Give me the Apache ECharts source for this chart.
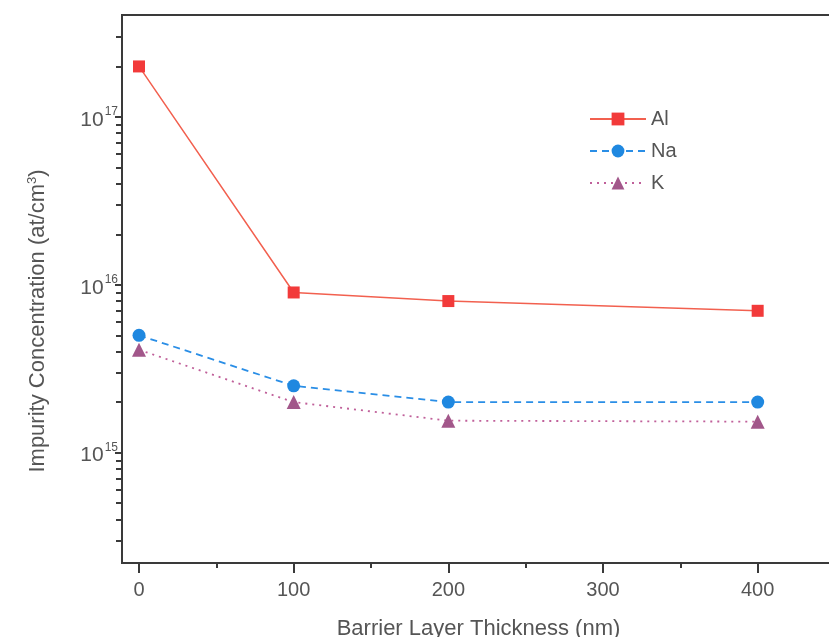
<!DOCTYPE html>
<html>
<head>
<meta charset="utf-8">
<script src="https://cdn.jsdelivr.net/npm/echarts@6/dist/echarts.min.js"></script>
<style>
  html, body { margin: 0; padding: 0; background: #fff; }
  #chart { width: 829px; height: 637px; }
</style>
</head>
<body>
<div id="chart"></div>
<script>
// 阻挡层厚度 (nm)
let thickness = [0, 100, 200, 400];
// 各杂质浓度 (at/cm3)
let alValues = [2.0e17, 9.0e15, 8.0e15, 7.0e15];
let naValues = [5.0e15, 2.5e15, 2.0e15, 2.0e15];
let kValues = [4.1e15, 2.0e15, 1.55e15, 1.53e15];
// 刻度
let xMajorTicks = [0, 100, 200, 300, 400];
let xMinorTicks = [50, 150, 250, 350];
let yMajorTicks = [1e15, 1e16, 1e17];
let yMinorTicks = [3e14, 4e14, 5e14, 6e14, 7e14, 8e14, 9e14,
    2e15, 3e15, 4e15, 5e15, 6e15, 7e15, 8e15, 9e15,
    2e16, 3e16, 4e16, 5e16, 6e16, 7e16, 8e16, 9e16,
    2e17, 3e17];

let axisColor = '#3a3a3a';
let textColor = '#555';
let font = '"Liberation Sans", Arial, sans-serif';

function pairs(values) {
    return thickness.map(function (x, i) {
        return [x, values[i]];
    });
}

let myChart = echarts.init(document.getElementById('chart'));
let option = {
    backgroundColor: '#fff',
    animation: false,
    textStyle: { fontFamily: font },
    grid: {
        left: 122, top: 15, width: 713, bottom: 74,
        containLabel: false, outerBoundsMode: 'none',
        show: true, borderColor: axisColor, borderWidth: 2
    },
    legend: {
        orient: 'vertical',
        left: 584, top: 104,
        itemWidth: 56, itemHeight: 16, itemGap: 12,
        textStyle: { fontSize: 20, color: textColor, fontFamily: font },
        data: ['Al', 'Na', 'K']
    },
    xAxis: [{
        type: 'value', min: -11, max: 450, position: 'bottom',
        axisLine: { show: true, onZero: false, lineStyle: { color: axisColor, width: 2 } },
        axisTick: { show: true, inside: false, length: 10, customValues: xMajorTicks,
            lineStyle: { color: axisColor, width: 2 } },
        axisLabel: { customValues: xMajorTicks, fontSize: 20, color: textColor, margin: 17 },
        splitLine: { show: false },
        name: 'Barrier Layer Thickness (nm)', nameLocation: 'middle', nameGap: 55,
        nameTextStyle: { fontSize: 22, color: textColor }
    }, {
        type: 'value', min: -11, max: 450, position: 'bottom',
        axisLine: { show: false, onZero: false },
        axisTick: { show: true, length: 5, customValues: xMinorTicks,
            lineStyle: { color: axisColor, width: 2 } },
        axisLabel: { show: false },
        splitLine: { show: false }
    }],
    yAxis: [{
        type: 'log', logBase: 10, min: 2.2e14, max: 4.05e17, position: 'left',
        axisLine: { show: true, onZero: false, lineStyle: { color: axisColor, width: 2 } },
        axisTick: { show: true, length: 7, customValues: yMajorTicks,
            lineStyle: { color: axisColor, width: 2 } },
        axisLabel: {
            customValues: yMajorTicks, margin: 4, color: textColor,
            formatter: function (v) {
                return '{base|10}{sup|' + Math.round(Math.log10(v)) + '}';
            },
            rich: {
                base: { fontSize: 21, color: textColor, padding: [6, 0, 0, 0] },
                sup: { fontSize: 12, color: textColor, padding: [0, 0, 10, 1] }
            }
        },
        splitLine: { show: false }
    }, {
        type: 'log', logBase: 10, min: 2.2e14, max: 4.05e17, position: 'left',
        axisLine: { show: false, onZero: false },
        axisTick: { show: true, length: 6, customValues: yMinorTicks,
            lineStyle: { color: axisColor, width: 2 } },
        axisLabel: { show: false },
        splitLine: { show: false }
    }],
    graphic: [{
        type: 'text',
        x: 38, y: 321,
        rotation: Math.PI / 2,
        style: {
            text: 'Impurity Concentration (at/cm{sup|3})',
            fill: textColor,
            font: '22px ' + font,
            align: 'center',
            verticalAlign: 'middle',
            rich: {
                sup: { fontSize: 13, fill: textColor, padding: [0, 0, 12, 0] }
            }
        }
    }],
    series: [{
        name: 'Al', type: 'line', data: pairs(alValues),
        symbol: 'rect', symbolSize: 12,
        itemStyle: { color: '#f23a3a' },
        lineStyle: { color: '#f2604f', width: 1.5, type: 'solid' }
    }, {
        name: 'Na', type: 'line', data: pairs(naValues),
        symbol: 'circle', symbolSize: 13,
        itemStyle: { color: '#1f88e0' },
        lineStyle: { color: '#2a8ee6', width: 1.8, type: [7, 5] }
    }, {
        name: 'K', type: 'line', data: pairs(kValues),
        symbol: 'triangle', symbolSize: 14,
        itemStyle: { color: '#a2578a' },
        lineStyle: { color: '#c0609a', width: 1.8, type: [2, 5] }
    }]
};
myChart.setOption(option);
</script>
</body>
</html>
